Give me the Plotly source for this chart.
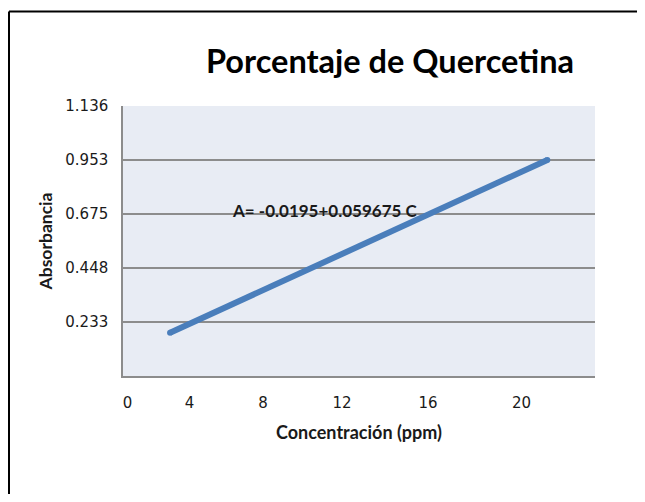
import plotly.graph_objects as go

# ---- data ----
conc = [2.16, 21.31]          # line endpoints on the concentration axis (axis units)
absorb = [0.182, 0.909]       # line endpoints on the absorbance axis (axis units)

x_tick_vals = [0.0, 3.147, 6.878, 10.888, 15.254, 20.0]
x_tick_labels = ["0", "4", "8", "12", "16", "20"]

y_tick_vals = [0.2272, 0.4544, 0.6816, 0.9088, 1.1359]
y_tick_labels = ["0.233", "0.448", "0.675", "0.953", "1.136"]

title_text = "Porcentaje de Quercetina"
x_title = "Concentración (ppm)"
y_title = "Absorbancia"
equation = "A= -0.0195+0.059675 C"

FONT = "Lato"
TICK_FONT = "DejaVu Sans"
LINE_COLOR = "#4A7EBB"

# the page body adds an 8px offset, so the figure is laid out 8px up/left
W, H = 637, 486
L, T, PW, PH = 115, 98, 472, 270


def px_x(p):   # figure pixel -> paper x
    return (p - L) / PW


def px_y(p):   # figure pixel -> paper y
    return (T + PH - p) / PH


fig = go.Figure()
fig.add_trace(go.Scatter(
    x=conc, y=absorb, mode="lines+markers",
    line=dict(color=LINE_COLOR, width=6),
    marker=dict(color=LINE_COLOR, size=6, line=dict(width=0)),
    showlegend=False, hoverinfo="skip",
))

fig.update_layout(
    width=W, height=H,
    margin=dict(l=L, r=W - L - PW, t=T, b=H - T - PH, pad=0),
    paper_bgcolor="white",
    plot_bgcolor="#E8ECF4",
    font=dict(family=FONT, color="#1a1a1a"),
    title=dict(
        text=f"<b>{title_text}</b>",
        font=dict(family=FONT, size=32.5, color="#000000"),
        x=px_x(382), xref="paper", xanchor="center",
        y=1 - 54 / H, yref="container", yanchor="middle",
    ),
    xaxis=dict(
        range=[-0.228, 23.73],
        tickmode="array", tickvals=x_tick_vals, ticktext=x_tick_labels,
        showgrid=False, zeroline=False,
        showline=True, linecolor="#8C8C8C", linewidth=1.5,
        ticks="", ticklabelstandoff=12,
        tickfont=dict(family=TICK_FONT, size=15, color="#1a1a1a"),
        title=dict(text=f"<b>{x_title}</b>", standoff=16,
                   font=dict(family=FONT, size=18, color="#1a1a1a")),
        fixedrange=True,
    ),
    yaxis=dict(
        range=[0, 1.136],
        tickmode="array", tickvals=y_tick_vals, ticktext=y_tick_labels,
        showgrid=True, gridcolor="#8C8C8C", gridwidth=1.5,
        zeroline=False,
        showline=True, linecolor="#8C8C8C", linewidth=1.5,
        ticks="", ticklabelstandoff=10,
        tickfont=dict(family=TICK_FONT, size=15, color="#1a1a1a"),
        title=dict(text=f"<b>{y_title}</b>", standoff=8,
                   font=dict(family=FONT, size=17.5, color="#1a1a1a")),
        fixedrange=True,
    ),
    annotations=[dict(
        text=f"<b>{equation}</b>", xref="paper", yref="paper",
        x=px_x(222), y=px_y(202),
        xanchor="left", yanchor="middle", showarrow=False,
        font=dict(family=FONT, size=17, color="#1a1a1a"),
    )],
    shapes=[
        dict(type="line", xref="paper", yref="paper",
             x0=px_x(1), x1=px_x(1), y0=px_y(H), y1=px_y(3.5),
             line=dict(color="#000000", width=2)),
        dict(type="line", xref="paper", yref="paper",
             x0=px_x(1), x1=px_x(W - 0.5), y0=px_y(3.5), y1=px_y(3.5),
             line=dict(color="#000000", width=2)),
    ],
)

fig.write_html("out.html")
